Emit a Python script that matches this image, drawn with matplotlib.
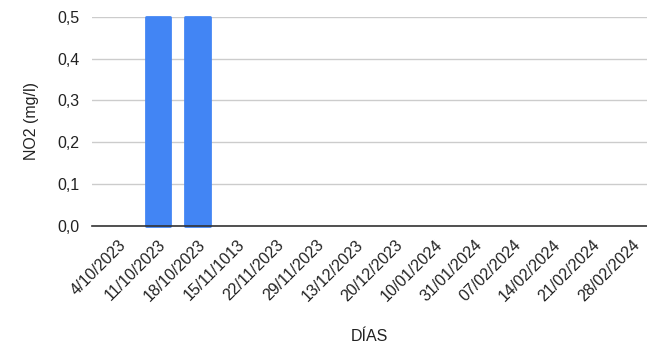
import matplotlib
matplotlib.use("Agg")
import matplotlib.pyplot as plt
from matplotlib.ticker import FuncFormatter

plt.rcParams['font.family'] = ['Liberation Sans', 'DejaVu Sans']

dias = ["4/10/2023", "11/10/2023", "18/10/2023", "15/11/1013", "22/11/2023",
        "29/11/2023", "13/12/2023", "20/12/2023", "10/01/2024", "31/01/2024",
        "07/02/2024", "14/02/2024", "21/02/2024", "28/02/2024"]
no2 = [0.0, 0.5, 0.5, 0.0, 0.0, 0.0, 0.0, 0.0, 0.0, 0.0, 0.0, 0.0, 0.0, 0.0]
yticks = [0.0, 0.1, 0.2, 0.3, 0.4, 0.5]

fig = plt.figure(figsize=(6.47, 3.45), dpi=100)
ax = fig.add_axes([92 / 647, 119 / 345, 555 / 647, (226 - 16.7) / 345])

x = list(range(len(dias)))
bars = ax.bar(x, no2, width=0.62, color="#4285F4", edgecolor="#4285F4",
              linewidth=2.0, zorder=3, clip_on=False)
# soften the corners of the visible bars; empty bars get no outline
for b, v in zip(bars, no2):
    b.set_joinstyle("round")
    if v <= 0:
        b.set_linewidth(0)

ax.set_xlim(-0.67, 13.38)
ax.set_ylim(0, 0.5)
ax.set_yticks(yticks)
ax.yaxis.set_major_formatter(FuncFormatter(lambda v, p: f"{v:.1f}".replace(".", ",")))
ax.grid(axis="y", color="#cccccc", linewidth=1, zorder=0)
ax.set_xticks(x)
ax.set_xticklabels(dias, rotation=45, ha="right", rotation_mode="anchor")

for s in ["top", "right", "left"]:
    ax.spines[s].set_visible(False)
ax.spines["bottom"].set_color("#333333")
ax.spines["bottom"].set_linewidth(1.2)
ax.spines["bottom"].set_zorder(4)
ax.tick_params(axis="both", length=0, labelsize=11.5, colors="#222222")
ax.tick_params(axis="x", pad=8)
ax.tick_params(axis="y", pad=9)

ax.set_ylabel("NO2 (mg/l)", fontsize=11.5, color="#222222", labelpad=13)
ax.set_xlabel("DÍAS", fontsize=11.5, color="#222222", labelpad=18)

fig.savefig("out.png", dpi=100)
